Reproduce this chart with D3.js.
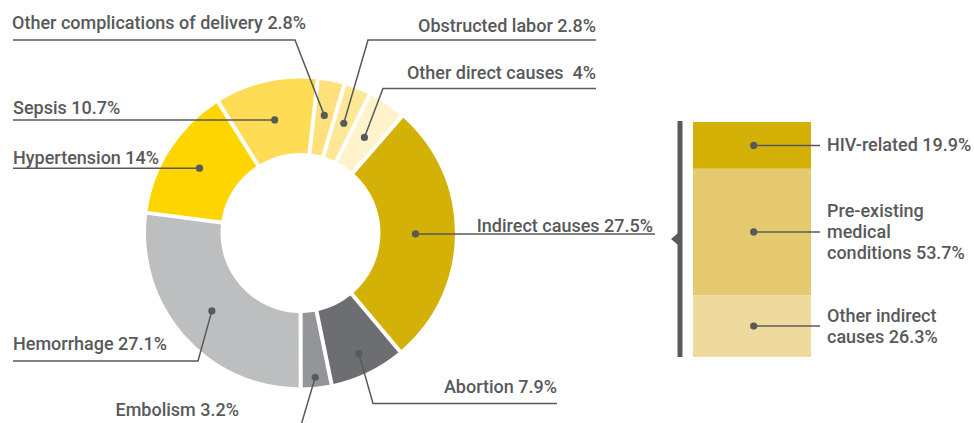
<!DOCTYPE html>
<html>
<head>
<meta charset="utf-8">
<script src="https://cdn.jsdelivr.net/npm/d3@7"></script>
<style>
  body { margin: 0; background: #fff; }
  svg text { font-family: Roboto, "DejaVu Sans", sans-serif; font-size: 18px; font-weight: 500; fill: #58595b; white-space: pre; }
</style>
</head>
<body>
<svg width="974" height="423"></svg>
<script>
/*------------------------
  ------ VARIABLES -------
  ------------------------*/

// donut: causes of maternal death, clockwise from just right of 12 o'clock
var causes = ["Other complications of delivery", "Obstructed labor", "Other direct causes",
              "Indirect causes", "Abortion", "Embolism", "Hemorrhage", "Hypertension", "Sepsis"];
var shares = [2.8, 2.8, 4, 27.5, 7.9, 3.2, 27.1, 14, 10.7];
var slice_labels = ["Other complications of delivery 2.8%", "Obstructed labor 2.8%",
                    "Other direct causes  4%", "Indirect causes 27.5%", "Abortion 7.9%",
                    "Embolism 3.2%", "Hemorrhage 27.1%", "Hypertension 14%", "Sepsis 10.7%"];

// breakdown of indirect causes
var indirect_parts = ["HIV-related", "Pre-existing medical conditions", "Other indirect causes"];
var indirect_shares = [19.9, 53.7, 26.3];
var indirect_labels = [["HIV-related 19.9%"],
                       ["Pre-existing", "medical", "conditions 53.7%"],
                       ["Other indirect", "causes 26.3%"]];

// display
var ink = "#58595b";
var donut = {cx: 300.5, cy: 233, r_in: 80, r_out: 154.5, start_deg: 6.4, gap: 4};
var slice_colors = ["#fee17c", "#fee796", "#fff3cb", "#d4b106", "#6d6e71",
                    "#939598", "#bcbec0", "#ffd500", "#fedc55"];
var part_colors = ["#d4b106", "#e5c96f", "#efda9e"];
var bar = {x: 693, width: 118, top: 122, bottom: 357, dot_x: 753.7, line_end: 820, txt_x: 827};

// label placement for each slice: dot radius, elbow, line end, text anchor
var slice_layout = [
    {dot_r: 120, elbow: [295, 40], end: [13, 40], tx: 12, ty: 29, anchor: "start"},
    {dot_r: 118, elbow: [368, 40], end: [596, 40], tx: 596, ty: 32, anchor: "end"},
    {dot_r: 115, elbow: [383, 88.5], end: [596, 88.5], tx: 596, ty: 79, anchor: "end"},
    {dot_r: 115, elbow: null, end: [655, null], tx: 653, ty: 232, anchor: "end"},
    {dot_r: 134, elbow: [373, 403.5], end: [557, 403.5], tx: 557, ty: 393, anchor: "end"},
    {dot_r: 145, elbow: [299, 432], end: [110, 432], tx: 239, ty: 416, anchor: "end"},
    {dot_r: 118, elbow: [198, 361], end: [13, 361], tx: 13, ty: 349.5, anchor: "start"},
    {dot_r: 120, elbow: null, end: [13, null], tx: 13, ty: 163.5, anchor: "start"},
    {dot_r: 116, elbow: null, end: [13, null], tx: 13, ty: 113.5, anchor: "start"}
];

var svg = d3.select("svg");

/*---------------------
  ---- DRAW DONUT -----
  ---------------------*/

function draw_donut() {
    var a0 = donut.start_deg * Math.PI / 180;
    var pie = d3.pie().sort(null).value(function(d) { return d; })
        .startAngle(a0).endAngle(a0 + 2 * Math.PI);
    var arcs = pie(shares);

    var arc = d3.arc()
        .innerRadius(donut.r_in)
        .outerRadius(donut.r_out)
        .padRadius(donut.r_out)
        .padAngle(donut.gap / donut.r_out);

    var g = svg.append("g")
        .attr("transform", "translate(" + donut.cx + "," + donut.cy + ")");

    g.selectAll(".slice")
        .data(arcs)
        .enter()
        .append("path")
        .attr("class", "slice")
        .attr("d", arc)
        .attr("fill", function(d, i) { return slice_colors[i]; });

    // leaders + dots
    var lay = svg.append("g");
    arcs.forEach(function(d, i) {
        var L = slice_layout[i];
        var mid = (d.startAngle + d.endAngle) / 2;
        var dx = donut.cx + L.dot_r * Math.sin(mid);
        var dy = donut.cy - L.dot_r * Math.cos(mid);
        var pts = [[dx, dy]];
        if (L.elbow) pts.push(L.elbow);
        pts.push([L.end[0], L.end[1] == null ? dy : L.end[1]]);

        lay.append("path")
            .attr("d", d3.line()(pts))
            .attr("fill", "none")
            .attr("stroke", ink)
            .attr("stroke-width", 1.5);
        lay.append("circle")
            .attr("cx", dx).attr("cy", dy).attr("r", 3.6)
            .attr("fill", ink);
        lay.append("text")
            .attr("x", L.tx).attr("y", L.ty)
            .attr("text-anchor", L.anchor)
            .text(slice_labels[i]);
    });
}

/*---------------------
  -- INDIRECT BAR -----
  ---------------------*/

function draw_indirect() {
    var y = d3.scaleLinear()
        .domain([0, d3.sum(indirect_shares)])
        .range([bar.top, bar.bottom]);
    var stack = [];
    var acc = 0;
    indirect_shares.forEach(function(v, i) {
        stack.push({name: indirect_parts[i], y0: acc, y1: acc + v, i: i});
        acc += v;
    });

    var g = svg.append("g");

    // bracket
    g.append("rect")
        .attr("x", 677.5).attr("y", bar.top - 1)
        .attr("width", 5).attr("height", bar.bottom - bar.top + 1)
        .attr("fill", ink);
    var my = 239;
    g.append("path")
        .attr("d", "M671," + my + "L678," + (my - 6) + "L678," + (my + 6) + "Z")
        .attr("fill", ink);

    g.selectAll(".part")
        .data(stack)
        .enter()
        .append("rect")
        .attr("class", "part")
        .attr("x", bar.x)
        .attr("width", bar.width)
        .attr("y", function(d) { return y(d.y0); })
        .attr("height", function(d) { return y(d.y1) - y(d.y0); })
        .attr("fill", function(d) { return part_colors[d.i]; });

    stack.forEach(function(d) {
        var cy = (y(d.y0) + y(d.y1)) / 2;
        g.append("line")
            .attr("x1", bar.dot_x).attr("x2", bar.line_end)
            .attr("y1", cy).attr("y2", cy)
            .attr("stroke", ink).attr("stroke-width", 1.5);
        g.append("circle")
            .attr("cx", bar.dot_x).attr("cy", cy).attr("r", 3.6)
            .attr("fill", ink);
        var lines = indirect_labels[d.i];
        var first = cy + 6 - (lines.length - 1) * 21 / 2;
        var t = g.append("text").attr("x", bar.txt_x);
        lines.forEach(function(s, k) {
            t.append("tspan")
                .attr("x", bar.txt_x)
                .attr("y", first + k * 21)
                .text(s);
        });
    });
}

draw_donut();
draw_indirect();
</script>
</body>
</html>
